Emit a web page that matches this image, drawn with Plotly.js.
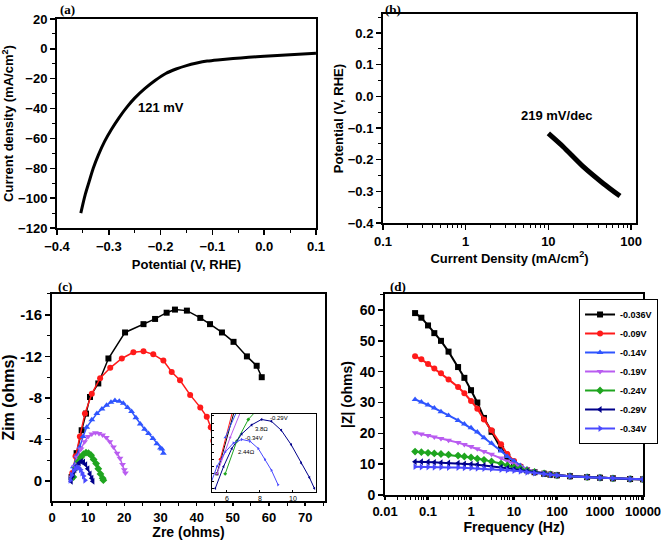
<!DOCTYPE html>
<html><head><meta charset="utf-8">
<script src="https://cdn.plot.ly/plotly-3.0.1.min.js"></script>
<style>html,body{margin:0;padding:0;background:#fff}</style>
</head><body><div id="chart" style="width:661px;height:540px"></div>
<script>
// (a) polarization curve
const lsvPotential = [-0.354,-0.350,-0.345,-0.338,-0.330,-0.320,-0.308,-0.295,-0.280,-0.265,-0.250,-0.230,-0.210,-0.190,-0.170,-0.150,-0.130,-0.110,-0.090,-0.060,-0.030,0.000,0.050,0.100];
const lsvCurrent   = [-110,-104,-97,-89,-80,-71,-62,-54,-46,-39,-33,-26.5,-21,-16.5,-13.5,-11.2,-9.5,-8.2,-7.4,-6.5,-5.7,-5.0,-4.0,-3.0];
// (b) Tafel
const tafelCurrent   = [10,15.1,26.4,46.1,73.5];
const tafelPotential = [-0.117,-0.159,-0.222,-0.275,-0.315];
// (c) Nyquist series
const seriesNames  = ['-0.036V','-0.09V','-0.14V','-0.19V','-0.24V','-0.29V','-0.34V'];
const seriesColors = ['#000000','#ff1a1a','#2f55ff','#b95cf0','#1fa51f','#00008b','#4a4aff'];
const seriesSymbols= ['square','circle','triangle-up','triangle-down','diamond','triangle-left','triangle-right'];
const zre036 = [5.4,6.8,8.2,9.4,10.5,12.8,15.6,20.2,25.3,28.5,31.7,34.0,37.3,41.0,43.7,47.0,50.2,53.9,56.6,58.0];
const zim036 = [-0.4,-2.7,-4.9,-6.5,-8.1,-9.4,-11.8,-14.3,-15.1,-15.6,-16.2,-16.5,-16.4,-15.7,-15.1,-14.3,-13.4,-12.0,-11.1,-10.0];
const zre09 = [5.6,6.5,7.7,9.1,11.0,13.3,16.1,19.3,22.5,25.3,28.0,30.8,33.1,35.4,38.2,41.0,42.8,43.9,44.6,45.1];
const zim09 = [-0.8,-2.4,-4.3,-6.5,-8.4,-9.9,-10.9,-11.8,-12.4,-12.5,-12.2,-11.6,-10.5,-9.7,-8.3,-7.1,-6.2,-5.2,-3.9,-2.7];
const zre14 = [5.9,6.8,7.7,8.6,9.6,11.0,12.4,13.8,15.1,16.3,17.4,18.6,19.7,20.9,22.0,23.2,24.4,25.6,26.7,27.9,29.0,30.0,30.4,30.8];
const zim14 = [-1.4,-2.4,-3.3,-4.3,-5.2,-5.9,-6.5,-6.95,-7.3,-7.6,-7.75,-7.7,-7.5,-7.1,-6.7,-6.1,-5.5,-5.0,-4.6,-4.1,-3.6,-3.2,-3.1,-2.7];
const zre19 = [5.4,6.2,7.0,8.0,9.0,10.0,11.0,12.0,13.0,14.0,15.0,16.0,17.0,18.0,18.8,19.5,20.0,20.3];
const zim19 = [-0.4,-1.4,-2.3,-3.1,-3.8,-4.3,-4.55,-4.65,-4.6,-4.45,-4.2,-3.8,-3.3,-2.7,-2.2,-1.6,-1.1,-0.8];
const zre24 = [5.9,6.6,7.3,8.0,8.7,9.4,10.1,10.8,11.5,12.2,12.8,13.4,14.0,14.2];
const zim24 = [-0.4,-1.3,-1.9,-2.3,-2.6,-2.75,-2.7,-2.5,-2.1,-1.7,-1.2,-0.7,-0.3,-0.1];
const zre29 = [5.3,5.8,6.3,6.9,7.5,8.1,8.7,9.3,9.9,10.5,11.0,11.3];
const zim29 = [0.0,-0.6,-1.1,-1.5,-1.75,-1.9,-1.85,-1.6,-1.2,-0.7,-0.3,0.0];
const zre34 = [5.0,5.4,5.9,6.4,6.9,7.4,7.9,8.3,8.7,9.1];
const zim34 = [-0.1,-0.6,-1.0,-1.25,-1.35,-1.3,-1.1,-0.8,-0.5,-0.1];
const zimTicks = [-16,-12,-8,-4,0];
const zimTickText = ['-16','-12','-8','-4','0'];
// (d) Bode |Z|
const freq = [0.05,0.07,0.1,0.14,0.2,0.3,0.5,0.7,1,1.4,2,3,5,7,10,14,20,30,50,70,100,200,500,1000,2000,5000,10000];
const modZ036 = [59,57.5,55,52.5,50,46.5,41.5,38,34,30,25,20.5,15,12.3,10.3,9,8,7.4,6.9,6.6,6.4,6.1,5.8,5.6,5.4,5.2,5.1];
const modZ09  = [45,44,42.5,41,39.5,37.5,35,33,30.5,28,24.5,21,16.5,13.3,11,9.3,8.2,7.5,7,6.7,6.4,6.1,5.8,5.6,5.4,5.2,5.1];
const modZ14  = [31,30.2,29.2,28.2,27,25.8,24.2,23,21.8,20.4,18.6,16.8,14.3,12.5,11,9.6,8.4,7.6,7,6.7,6.4,6.1,5.8,5.6,5.4,5.2,5.1];
const modZ19  = [20.2,19.8,19.3,18.8,18.3,17.8,17.0,16.4,15.7,15,14.1,13.2,12,11,10,9.2,8.4,7.7,7.1,6.7,6.4,6.1,5.8,5.6,5.4,5.2,5.1];
const modZ24  = [14.1,13.9,13.7,13.5,13.3,13.1,12.8,12.5,12.2,11.8,11.4,10.9,10.2,9.6,9.0,8.6,8.0,7.5,7.0,6.7,6.4,6.1,5.8,5.6,5.4,5.2,5.1];
const modZ29  = [10.8,10.8,10.7,10.6,10.5,10.4,10.3,10.1,10.0,9.8,9.6,9.3,9.0,8.7,8.4,8.1,7.7,7.3,6.9,6.6,6.4,6.1,5.8,5.6,5.4,5.2,5.1];
const modZ34  = [9.2,9.1,9.1,9.0,9.0,8.9,8.9,8.8,8.8,8.7,8.6,8.5,8.3,8.1,7.9,7.7,7.4,7.1,6.8,6.6,6.4,6.1,5.8,5.6,5.4,5.2,5.1];
const freqTicks = [0.01,0.1,1,10,100,1000,10000];
const freqTickText = ['0.01','0.1','1','10','100','1000','10000'];

const zreAll = [zre036,zre09,zre14,zre19,zre24,zre29,zre34];
const zimAll = [zim036,zim09,zim14,zim19,zim24,zim29,zim34];
const modZAll = [modZ036,modZ09,modZ14,modZ19,modZ24,modZ29,modZ34];

const traces = [];
traces.push({x:lsvPotential,y:lsvCurrent,mode:'lines',line:{color:'black',width:3,shape:'spline',smoothing:0.6},xaxis:'x',yaxis:'y',showlegend:false});
traces.push({x:tafelCurrent,y:tafelPotential,mode:'lines',line:{color:'black',width:5,shape:'spline',smoothing:0.6},xaxis:'x2',yaxis:'y2',showlegend:false});
for(let i=0;i<7;i++){
  traces.push({x:zreAll[i],y:zimAll[i],mode:'lines+markers',line:{color:seriesColors[i],width:1.5},
    marker:{symbol:seriesSymbols[i],size:6,color:seriesColors[i]},xaxis:'x3',yaxis:'y3',showlegend:false});
}
for(let i=0;i<7;i++){
  traces.push({x:zreAll[i],y:zimAll[i],mode:'lines+markers',line:{color:seriesColors[i],width:1},
    marker:{symbol:seriesSymbols[i],size:3,color:seriesColors[i]},xaxis:'x5',yaxis:'y5',showlegend:false});
}
for(let i=0;i<7;i++){
  traces.push({x:freq,y:modZAll[i],name:seriesNames[i],mode:'lines+markers',line:{color:seriesColors[i],width:2},
    marker:{symbol:seriesSymbols[i],size:6,color:seriesColors[i]},xaxis:'x4',yaxis:'y4'});
}

const F = 'Arial, "Liberation Sans", sans-serif';
const SERIF = '"Liberation Serif", "Times New Roman", serif';
function mn(d){return {ticks:'outside',ticklen:3,tickwidth:1,tickcolor:'black',dtick:d};}
function ax(o){
  return Object.assign({showline:true,linecolor:'black',linewidth:2,mirror:true,ticks:'outside',ticklen:5,tickwidth:1.5,
    tickcolor:'black',showgrid:false,zeroline:false,ticklabeloverflow:'allow',
    tickfont:{family:F,size:13,weight:'bold',color:'black'}},o);
}
function tt(text,size,standoff){return {text:text,font:{family:F,size:size,weight:'bold',color:'black'},standoff:standoff};}
function tf(s){return {family:F,size:s,weight:'bold',color:'black'};}
function lab(t,px,py){return {text:t,xref:'paper',yref:'paper',x:px/661,y:1-py/540,xanchor:'center',yanchor:'middle',showarrow:false,font:{family:SERIF,size:13,weight:'bold'}};}

const layout = {
  width:661,height:540,margin:{l:0,r:0,t:0,b:0},paper_bgcolor:'white',plot_bgcolor:'white',
  font:{family:F,color:'black'},
  xaxis: ax({domain:[0.0862,0.478],anchor:'y',range:[-0.4,0.1],dtick:0.1,tick0:0,tickformat:'.1f',minor:mn(0.05),title:tt('Potential (V, RHE)',13,7)}),
  yaxis: ax({domain:[0.5778,0.9648],anchor:'x',range:[-120,20],dtick:20,minor:mn(10),title:tt('Current density (mA/cm<sup>2</sup>)',13,6)}),
  xaxis2: ax({domain:[0.5794,0.9622],anchor:'y2',type:'log',range:[-1,2.06],dtick:1,exponentformat:'none',minor:mn('D1'),title:tt('Current Density (mA/cm<sup>2</sup>)',13,6)}),
  yaxis2: ax({domain:[0.587,0.974],anchor:'x2',range:[-0.4,0.26],dtick:0.1,tick0:0,tickformat:'.1f',minor:mn(0.05),title:tt('Potential (V, RHE)',13,1)}),
  xaxis3: ax({domain:[0.0787,0.4917],anchor:'y3',range:[0,75.5],dtick:10,tick0:0,ticklen:3,tickfont:tf(13),minor:mn(5),title:tt('Zre (ohms)',14,4)}),
  yaxis3: ax({domain:[0.0722,0.4556],anchor:'x3',range:[1.9,-18],tickmode:'array',tickvals:zimTicks,ticktext:zimTickText,tickfont:tf(15),minor:mn(2),title:tt('Zim (ohms)',16,4)}),
  xaxis4: ax({domain:[0.5825,0.9728],anchor:'y4',type:'log',range:[-2,4],tickmode:'array',tickvals:freqTicks,ticktext:freqTickText,ticklen:3,tickfont:tf(13),minor:mn('D1'),title:tt('Frequency (Hz)',14,4)}),
  yaxis4: ax({domain:[0.0833,0.4556],anchor:'x4',range:[0,65.2],dtick:10,tickfont:tf(14),minor:mn(5),title:tt('|Z| (ohms)',14,4)}),
  xaxis5: {domain:[0.3207,0.4781],anchor:'y5',range:[5.1,11.4],dtick:2,tick0:0,showline:true,linecolor:'black',linewidth:1,mirror:true,ticks:'inside',ticklen:2,tickcolor:'black',showgrid:false,zeroline:false,tickfont:{family:F,size:7,color:'black'}},
  yaxis5: {domain:[0.0889,0.2333],anchor:'x5',range:[0.1,-2.05],dtick:0.2,showline:true,linecolor:'black',linewidth:1,mirror:true,ticks:'inside',ticklen:2,tickcolor:'black',showgrid:false,zeroline:false,showticklabels:false},
  legend:{x:0.876,y:0.4463,xanchor:'left',yanchor:'top',bgcolor:'white',bordercolor:'black',borderwidth:1,
    font:{family:F,size:9,weight:'bold',color:'black'},itemwidth:30,tracegroupgap:0},
  showlegend:true,
  annotations:[
    lab('(a)',67,10), lab('(b)',393,10), lab('(c)',65,286), lab('(d)',398,286),
    {text:'121 mV',xref:'x',yref:'y',x:-0.2,y:-39,showarrow:false,font:{family:F,size:13,weight:'bold'}},
    {text:'219 mV/dec',xref:'x2',yref:'y2',x:1.10,y:-0.059,showarrow:false,font:{family:F,size:13,weight:'bold'}},
    {text:'-0.29V',xref:'x5',yref:'y5',x:8.5,y:-1.94,xanchor:'left',showarrow:false,font:{family:F,size:6,color:'black'}},
    {text:'3.8Ω',xref:'x5',yref:'y5',x:8.1,y:-1.64,showarrow:false,font:{family:F,size:6,color:'black'}},
    {text:'-0.34V',xref:'x5',yref:'y5',x:7.65,y:-1.39,showarrow:false,font:{family:F,size:6,color:'black'}},
    {text:'2.44Ω',xref:'x5',yref:'y5',x:7.2,y:-1.0,showarrow:false,font:{family:F,size:6,color:'black'}}
  ]
};
Plotly.newPlot('chart',traces,layout,{displayModeBar:false,staticPlot:true});
</script></body></html>
